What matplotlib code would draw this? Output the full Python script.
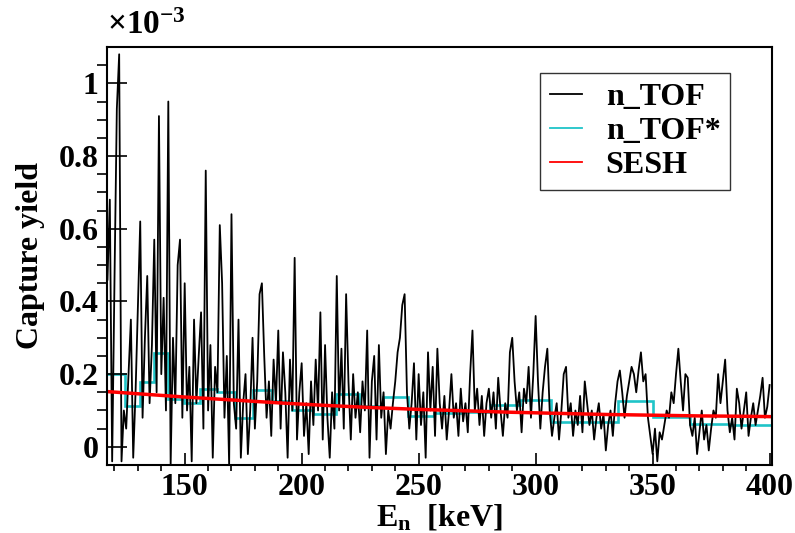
import matplotlib
matplotlib.use('Agg')
import matplotlib.pyplot as plt
import numpy as np

plt.rcParams['font.family'] = ['Liberation Serif', 'DejaVu Serif']
plt.rcParams['font.weight'] = 'bold'
plt.rcParams['mathtext.fontset'] = 'custom'
plt.rcParams['mathtext.rm'] = 'Liberation Serif:bold'
plt.rcParams['mathtext.it'] = 'Liberation Serif:bold'
plt.rcParams['mathtext.bf'] = 'Liberation Serif:bold'

# n_TOF capture yield (x1e-3), one value per keV from 117 to 400 keV
ntof_e = np.arange(117, 401)
ntof_y = [
    0.46, 0.68, -0.04, 0.46, 0.93, 1.08, -0.04, 0.10,                     # 117-124
    0.05, 0.20, 0.35, -0.03, 0.15, 0.38, 0.62,                            # 125-131
    0.08, 0.30, 0.47, 0.12, 0.28, 0.57, 0.15, 0.91, 0.20, 0.41,           # 132-141
    0.10, 0.95, -0.05, 0.30, 0.12, 0.50, 0.57, 0.08, 0.45, 0.10,          # 142-151
    0.22, -0.04, 0.35, 0.12, 0.25, 0.37, 0.05, 0.76, 0.10, 0.28,          # 152-161
    -0.03, 0.22, 0.15, 0.61, 0.45, 0.08, 0.25, -0.05, 0.64, 0.12,         # 162-171
    0.05, 0.35, -0.03, 0.12, 0.20, -0.02, 0.10, 0.30, 0.05, 0.18,         # 172-181
    0.42, 0.45, 0.25, 0.08, 0.18, 0.03, 0.24, 0.12, 0.32, 0.05,           # 182-191
    0.26, 0.15, -0.03, 0.24, 0.10, 0.52, 0.02, 0.15, 0.23, 0.03,          # 192-201
    0.12, -0.02, 0.18, 0.06, 0.24, 0.10, 0.37, 0.02, 0.28, 0.08,          # 202-211
    -0.03, 0.15, 0.05, 0.47, 0.10, 0.27, 0.05, 0.42, 0.18, 0.02,          # 212-221
    0.20, 0.08, 0.15, 0.04, 0.18, 0.10, 0.32, -0.03, 0.18, 0.25,          # 222-231
    0.02, 0.28, 0.08, 0.15, -0.02, 0.10, 0.05, 0.12, 0.18, 0.26,          # 232-241
    0.30, 0.39, 0.42, 0.15, 0.05, 0.12, 0.23, 0.02, 0.20, 0.06,           # 242-251
    0.15, -0.03, 0.26, 0.10, 0.22, 0.03, 0.27, 0.12, 0.05, 0.14,          # 252-261
    0.02, 0.10, 0.20, 0.08, 0.12, 0.03, 0.16, 0.07, 0.12, 0.04,           # 262-271
    0.20, 0.32, 0.10, 0.16, 0.06, 0.14, 0.03, 0.12, 0.16, 0.08,           # 272-281
    0.15, 0.05, 0.19, 0.10, 0.03, 0.12, 0.08, 0.26, 0.30, 0.18,           # 282-291
    0.10, 0.15, 0.04, 0.16, 0.12, 0.22, 0.08, 0.20, 0.36, 0.18,           # 292-301
    0.05, 0.15, 0.22, 0.27, 0.10, 0.03, 0.08, 0.12, 0.02, 0.10,           # 302-311
    0.20, 0.22, 0.08, 0.12, 0.03, 0.10, 0.06, 0.14, 0.04, 0.18,           # 312-321
    0.12, 0.06, 0.10, 0.02, 0.08, 0.12, 0.05, 0.09, -0.01, 0.06,          # 322-331
    0.10, 0.03, 0.12, 0.18, 0.21, 0.15, 0.08, 0.14, 0.18, 0.22,           # 332-341
    0.20, 0.15, 0.21, 0.26, 0.18, 0.20, 0.08, 0.03, -0.02, 0.05,          # 342-351
    -0.04, 0.04, 0.02, 0.06, 0.10, 0.08, 0.15, 0.12, 0.20, 0.27,          # 352-361
    0.18, 0.10, 0.20, 0.19, 0.06, 0.03, 0.08, -0.02, 0.04, 0.10,          # 362-371
    0.02, 0.06, -0.01, 0.05, 0.10, 0.08, 0.20, 0.12, 0.18, 0.24,          # 372-381
    0.10, 0.04, 0.08, 0.02, 0.16, 0.12, 0.05, 0.10, 0.15, 0.03,           # 382-391
    0.08, 0.12, 0.06, 0.10, 0.14, 0.19, 0.08, 0.11, 0.17,                 # 392-400
]

# n_TOF* coarse binned yield (x1e-3)
star_edges = [116.8, 124.6, 130.7, 136.7, 142.9, 149.7, 156.4, 163.6, 171.4, 179.2,
              187.4, 195.9, 204.9, 214.5, 224.5, 234.6, 245.3, 256.5, 268.6, 280.4,
              293.2, 306.4, 320.5, 335.0, 350.2, 365.9, 382.7, 401.0]
star_y = [0.200, 0.113, 0.177, 0.257, 0.132, 0.120, 0.160, 0.152, 0.079, 0.155,
          0.127, 0.102, 0.090, 0.146, 0.111, 0.138, 0.085, 0.093, 0.097, 0.114,
          0.129, 0.067, 0.068, 0.127, 0.081, 0.062, 0.060]

# SESH yield (x1e-3)
sesh_e = [116.8, 130, 150, 170, 190, 210, 230, 250, 270, 290, 310, 330, 350, 370, 390, 401]
sesh_y = [0.152, 0.146, 0.137, 0.129, 0.121, 0.114, 0.108, 0.103, 0.099, 0.095,
          0.092, 0.089, 0.087, 0.085, 0.084, 0.083]

fig = plt.figure(figsize=(7.95, 5.33), dpi=100)
ax = fig.add_axes([0.1346, 0.1276, 0.8364, 0.7842])

ax.plot(ntof_e, ntof_y, color='black', lw=1.3, label='n_TOF')
ax.stairs(star_y, star_edges, baseline=None, color='#1fc4c8', lw=1.9, label='n_TOF*')
ax.plot(sesh_e, sesh_y, color='red', lw=2.5, label='SESH')

ax.set_xlim(116.8, 401)
ax.set_ylim(-0.05, 1.1)
ax.set_xticks([150, 200, 250, 300, 350, 400])
ax.set_xticks(np.arange(120, 401, 10), minor=True)
ax.set_yticks([0, 0.2, 0.4, 0.6, 0.8, 1.0])
ax.set_yticklabels(['0', '0.2', '0.4', '0.6', '0.8', '1'])
ax.set_yticks(np.arange(0, 1.1, 0.05), minor=True)

ax.tick_params(axis='both', direction='in', labelsize=23, width=1.2)
ax.tick_params(axis='y', which='major', length=14.4, pad=6)
ax.tick_params(axis='y', which='minor', length=7.2, width=1.2)
ax.tick_params(axis='x', which='major', length=8.6, pad=6)
ax.tick_params(axis='x', which='minor', length=4.3, width=1.2)
for s in ax.spines.values():
    s.set_linewidth(1.5)

ax.set_xlabel(r'$\mathrm{E_{n}}$  [keV]', fontsize=23, fontweight='bold', labelpad=0)
ax.set_ylabel('Capture yield', fontsize=23, fontweight='bold', labelpad=10)
ax.text(0.0, 1.015, '×10$^{\\mathrm{-3}}$', transform=ax.transAxes, fontsize=24,
        fontweight='bold', ha='left', va='bottom')

leg = ax.legend(loc='upper right', bbox_to_anchor=(0.937, 0.938), borderaxespad=0,
                fontsize=23, handlelength=1.0, handletextpad=0.75, labelspacing=0.15,
                borderpad=0.3, fancybox=False, frameon=True)
leg.get_frame().set_edgecolor('black')
leg.get_frame().set_linewidth(1.0)
for t in leg.get_texts():
    t.set_fontweight('bold')
for h in leg.legend_handles:
    h.set_linewidth(1.3)

fig.savefig('out.png', dpi=100)
